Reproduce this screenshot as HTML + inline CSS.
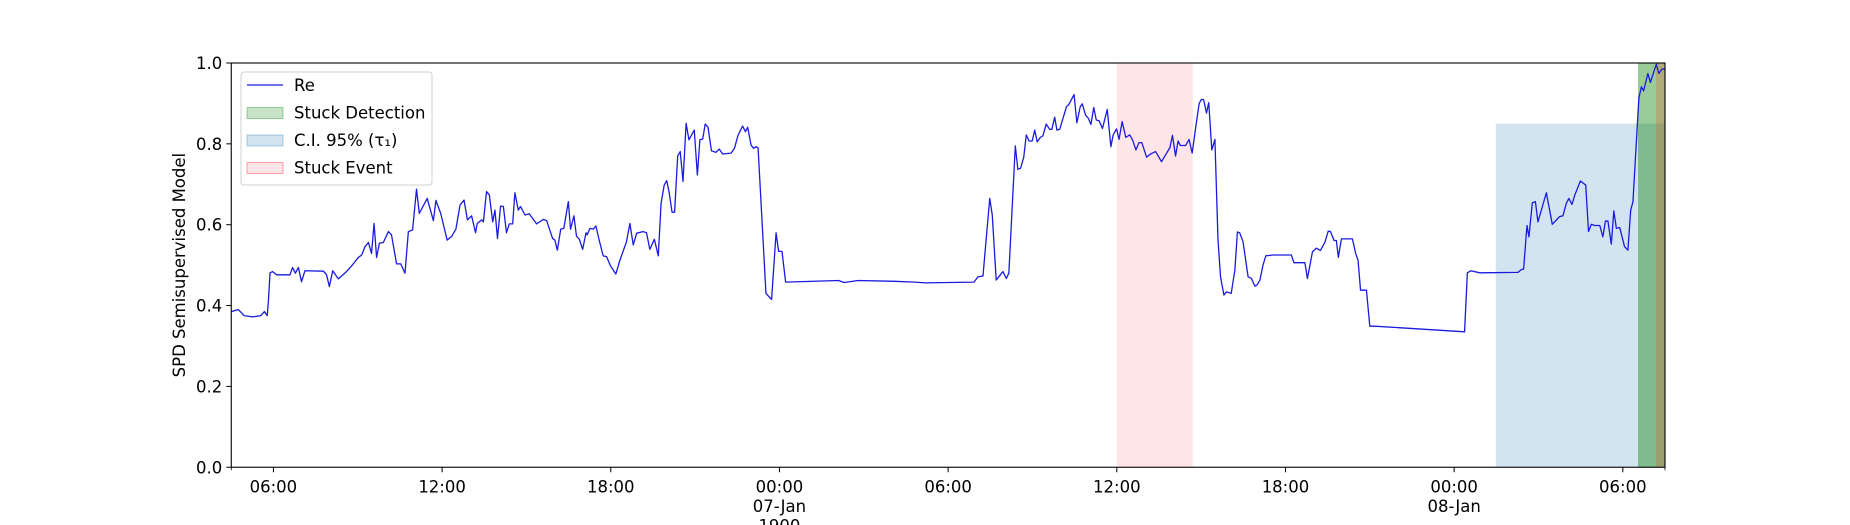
<!DOCTYPE html>
<html><head><meta charset="utf-8">
<style>
html,body{margin:0;padding:0;background:#fff;}
svg{display:block;font-family:"DejaVu Sans","Liberation Sans",sans-serif;}
</style></head>
<body>
<svg id="chart" width="1850" height="525" viewBox="0 0 1850 525" xmlns="http://www.w3.org/2000/svg">
  <g id="bands"></g>
  <g id="line"></g>
  <g id="axes"></g>
  <g id="legend"></g>
</svg>
<script>
// hours since 06-Jan 04:30
const hours = [0,0.25,0.46,0.76,1.05,1.18,1.28,1.32,1.38,1.47,1.62,2.09,2.18,2.28,2.39,2.50,2.62,3.28,3.39,3.49,3.61,3.81,4.10,4.34,4.52,4.64,4.76,4.88,4.99,5.08,5.17,5.27,5.41,5.59,5.70,5.88,6.03,6.18,6.30,6.45,6.59,6.69,6.97,7.19,7.28,7.45,7.68,7.84,7.99,8.14,8.28,8.40,8.55,8.69,8.75,8.91,8.97,9.08,9.18,9.30,9.38,9.47,9.58,9.68,9.79,9.89,10.01,10.09,10.21,10.29,10.45,10.60,10.86,11.10,11.22,11.43,11.51,11.60,11.72,11.83,11.99,12.07,12.19,12.28,12.38,12.50,12.62,12.66,12.76,12.88,12.97,13.09,13.23,13.35,13.49,13.68,13.83,14.06,14.18,14.30,14.42,14.65,14.77,14.89,15.05,15.19,15.29,15.40,15.49,15.58,15.68,15.77,15.88,15.97,16.07,16.18,16.28,16.47,16.58,16.67,16.77,16.86,16.96,17.08,17.24,17.36,17.48,17.78,17.90,18.02,18.19,18.29,18.37,18.49,18.58,18.67,18.74,19.02,19.22,19.38,19.47,19.59,19.72,21.6,21.8,22.3,23.6,24.3,24.7,26.42,26.56,26.74,26.98,27.07,27.21,27.45,27.57,27.66,27.89,27.98,28.08,28.19,28.28,28.38,28.49,28.58,28.67,28.78,28.87,28.99,29.11,29.19,29.29,29.37,29.47,29.71,29.80,29.98,30.08,30.20,30.27,30.39,30.49,30.58,30.68,30.77,30.87,30.99,31.16,31.29,31.37,31.49,31.58,31.69,31.82,31.96,32.06,32.18,32.29,32.39,32.56,32.70,32.88,33.09,33.23,33.39,33.48,33.59,33.68,33.76,33.95,34.07,34.18,34.33,34.43,34.51,34.59,34.69,34.77,34.88,34.99,35.10,35.19,35.31,35.40,35.57,35.70,35.79,35.87,35.99,36.17,36.29,36.41,36.49,36.59,36.70,36.80,37.06,37.71,37.80,38.19,38.28,38.46,38.60,38.74,38.90,39.02,39.10,39.23,39.31,39.38,39.49,39.88,40.00,40.08,40.17,40.38,40.50,40.67,43.87,43.97,44.09,44.41,45.77,45.89,45.97,46.09,46.16,46.28,46.39,46.48,46.78,46.99,47.25,47.37,47.49,47.58,47.69,47.79,47.99,48.18,48.28,48.38,48.50,48.68,48.79,48.88,48.97,49.09,49.18,49.27,49.39,49.56,49.68,49.78,49.86,50.07,50.16,50.24,50.39,50.48,50.69,50.78,50.89,51.0];
const values = [0.385,0.39,0.375,0.372,0.375,0.385,0.375,0.41,0.481,0.484,0.476,0.476,0.494,0.480,0.494,0.459,0.486,0.485,0.476,0.447,0.486,0.466,0.484,0.503,0.519,0.525,0.546,0.556,0.529,0.603,0.519,0.554,0.556,0.583,0.575,0.503,0.503,0.480,0.583,0.587,0.688,0.628,0.665,0.610,0.660,0.628,0.562,0.571,0.589,0.649,0.661,0.612,0.622,0.580,0.603,0.612,0.607,0.682,0.674,0.607,0.636,0.566,0.646,0.645,0.580,0.602,0.602,0.679,0.636,0.645,0.624,0.627,0.602,0.613,0.610,0.566,0.562,0.537,0.589,0.591,0.657,0.589,0.622,0.572,0.564,0.539,0.580,0.575,0.591,0.589,0.597,0.561,0.523,0.521,0.498,0.478,0.513,0.558,0.603,0.550,0.579,0.583,0.580,0.539,0.564,0.523,0.653,0.698,0.709,0.678,0.631,0.631,0.770,0.781,0.707,0.851,0.810,0.834,0.723,0.810,0.812,0.849,0.841,0.783,0.779,0.787,0.775,0.777,0.789,0.820,0.844,0.830,0.841,0.797,0.789,0.793,0.79,0.43,0.415,0.580,0.534,0.534,0.458,0.462,0.457,0.462,0.46,0.458,0.456,0.458,0.471,0.473,0.665,0.624,0.463,0.484,0.467,0.480,0.795,0.737,0.740,0.767,0.822,0.807,0.807,0.834,0.805,0.816,0.820,0.849,0.836,0.836,0.866,0.834,0.836,0.892,0.898,0.922,0.852,0.892,0.899,0.871,0.863,0.848,0.890,0.859,0.857,0.838,0.885,0.793,0.822,0.837,0.811,0.855,0.816,0.822,0.810,0.785,0.803,0.803,0.767,0.775,0.781,0.756,0.772,0.791,0.821,0.770,0.807,0.796,0.796,0.811,0.777,0.852,0.900,0.910,0.909,0.876,0.902,0.785,0.811,0.562,0.471,0.426,0.434,0.430,0.488,0.582,0.580,0.558,0.471,0.467,0.448,0.451,0.463,0.500,0.523,0.525,0.525,0.506,0.506,0.467,0.533,0.542,0.536,0.556,0.584,0.583,0.561,0.561,0.519,0.565,0.565,0.528,0.513,0.438,0.438,0.349,0.349,0.335,0.481,0.486,0.481,0.482,0.489,0.490,0.598,0.570,0.654,0.657,0.607,0.679,0.601,0.620,0.622,0.653,0.665,0.650,0.673,0.708,0.698,0.583,0.601,0.598,0.598,0.570,0.609,0.609,0.552,0.634,0.591,0.593,0.546,0.537,0.636,0.657,0.913,0.941,0.931,0.974,0.952,0.997,0.974,0.985,0.985];
const bandStart = [44.98, 50.04, 31.5, 50.68];
const bandEnd   = [51.0, 51.0, 34.2, 51.0];
const bandTop   = [0.85, 1.0, 1.0, 1.0];
const bandNames = ['ci-95-band','stuck-detection-band','stuck-event-band','stuck-overlap-band'];
const bandFill  = ['rgba(31,119,180,0.2)','rgba(0,128,0,0.4)','rgba(255,0,20,0.1)','rgba(255,60,0,0.22)'];
const xTickHours = [1.5,7.5,13.5,19.5,25.5,31.5,37.5,43.5,49.5];
const xTickLabels = [['06:00'],['12:00'],['18:00'],['00:00','07-Jan','1900'],['06:00'],['12:00'],['18:00'],['00:00','08-Jan'],['06:00']];
const yTicks = [0,0.2,0.4,0.6,0.8,1.0];
const yTickLabels = ['0.0','0.2','0.4','0.6','0.8','1.0'];

const L=231.25,R=1665,T=63,B=467.25,XMAX=51,FS=16.5;
const NS='http://www.w3.org/2000/svg';
function X(h){return L+(h/XMAX)*(R-L);}
function Y(v){return B-v*(B-T);}
function mk(tag,attrs,parent){const e=document.createElementNS(NS,tag);for(const k in attrs)e.setAttribute(k,attrs[k]);parent.appendChild(e);return e;}

const bands=document.getElementById('bands');
for(let i=0;i<bandStart.length;i++){
  const r=mk('rect',{x:X(bandStart[i]),y:Y(bandTop[i]),width:X(bandEnd[i])-X(bandStart[i]),height:B-Y(bandTop[i]),fill:bandFill[i]},bands);
  
  
}
const lineG=document.getElementById('line');
let d='';
for(let i=0;i<hours.length;i++){d+=(i?'L':'M')+X(hours[i]).toFixed(2)+' '+Y(values[i]).toFixed(2);}
const p=mk('path',{d:d,fill:'none',stroke:'#1a1ae0','stroke-width':1.3,'stroke-linejoin':'round'},lineG);



const axes=document.getElementById('axes');
const frame=mk('rect',{x:L,y:T,width:R-L,height:B-T,fill:'none',stroke:'#000','stroke-width':1.1},axes);


for(let i=0;i<yTicks.length;i++){
  const y=Y(yTicks[i]);
  const tk=mk('line',{x1:L-5,x2:L,y1:y,y2:y,stroke:'#000','stroke-width':1},axes);
  
  
  const t=mk('text',{x:L-9,y:y+6,'text-anchor':'end','font-size':FS,fill:'#000'},axes);
  t.textContent=yTickLabels[i];
  
  
}
for(let i=0;i<xTickHours.length;i++){
  const x=X(xTickHours[i]);
  const tk=mk('line',{x1:x,x2:x,y1:B,y2:B+5,stroke:'#000','stroke-width':1},axes);
  
  
  xTickLabels[i].forEach((s,j)=>{
    const t=mk('text',{x:x,y:B+25+j*19.5,'text-anchor':'middle','font-size':FS,fill:'#000'},axes);
    t.textContent=s;
    
    
  });
}
[0,XMAX].forEach(h=>{const m=mk('line',{x1:X(h),x2:X(h),y1:B,y2:B+3,stroke:'#000','stroke-width':0.8},axes);
  
  });
const yl=mk('text',{x:0,y:0,'text-anchor':'middle','font-size':FS,fill:'#000',transform:'translate(185,'+((T+B)/2)+') rotate(-90)'},axes);
yl.textContent='SPD Semisupervised Model';



const lg=document.getElementById('legend');
const box=mk('rect',{x:241,y:72,width:191,height:113,rx:3,fill:'rgba(255,255,255,0.8)',stroke:'#d0d0d0','stroke-width':1},lg);


const entries=[['Re',null],['Stuck Detection','rgba(0,128,0,0.22)'],['C.I. 95% (τ₁)','rgba(31,119,180,0.2)'],['Stuck Event','rgba(255,0,20,0.1)']];
const entryNames=['legend-entry-re','legend-entry-stuck-detection','legend-entry-ci','legend-entry-stuck-event'];
entries.forEach((e,i)=>{
  const cy=85+i*27.5;
  const g=mk('g',{},lg);
  
  
  if(e[1]===null){mk('line',{x1:247,x2:283,y1:cy,y2:cy,stroke:'#1a1ae0','stroke-width':1.3},g);}
  else{mk('rect',{x:247,y:cy-5,width:36,height:11,fill:e[1],stroke:e[1].replace(/[\d.]+\)$/,'0.35)'),'stroke-width':1},g);}
  const t=mk('text',{x:294,y:cy+6,'font-size':FS,fill:'#000'},g);
  t.textContent=e[0];
});
</script>
</body></html>
